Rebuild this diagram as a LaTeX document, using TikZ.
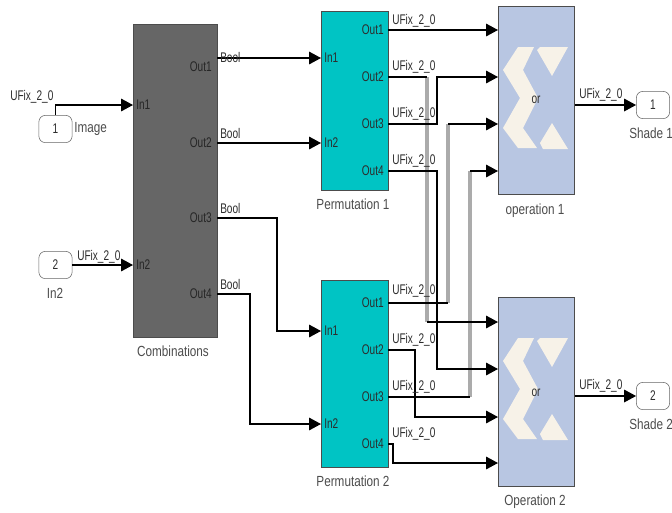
\documentclass[tikz,border=0pt]{standalone}
\usepackage{fontspec}
\setmainfont[FakeStretch=0.72]{Liberation Sans}
\newfontfamily\namefont[FakeStretch=0.8]{Liberation Sans}
\usetikzlibrary{arrows.meta}
\definecolor{permcol}{RGB}{0,196,196}
\definecolor{combcol}{RGB}{102,102,102}
\definecolor{opcol}{RGB}{184,198,226}
\definecolor{logocol}{RGB}{247,242,232}
\definecolor{txtcol}{RGB}{45,45,45}
\tikzset{
  txt/.style={font=\fontsize{10.5}{11}\selectfont, text=txtcol, inner sep=0pt},
  blockname/.style={font=\namefont\fontsize{11}{12}\selectfont, text=txtcol!85, inner sep=0pt},
  block/.style={draw=black!70, line width=1pt, inner sep=0pt, anchor=north west},
  port/.style={draw=black!60, rounded corners=5pt, minimum width=25pt, minimum height=20.5pt, inner sep=0pt, font=\fontsize{10.5}{11}\selectfont, text=txtcol, fill=white},
  wire/.style={line width=0.9pt, -{Triangle[length=9pt,width=9.5pt]}},
  wirebus/.style={line width=2.5pt, draw=black!33},
  plain/.style={line width=0.9pt}
}
\newcommand{\logo}[2]{%
  \fill [logocol, shift={(#1,#2)}] (0,23) -- (15,0) -- (31,0) -- (20,23) -- (35,51) -- (20,81) -- (34,101) -- (15,101) -- (0,81) -- (17,51) -- cycle;
  \fill [logocol, shift={(#1,#2)}] (37,0) -- (65,0) -- (49,29) -- (34,3) -- cycle;
  \fill [logocol, shift={(#1,#2)}] (49,76) -- (65,102) -- (40,102) -- (37,96) -- cycle;}
\begin{document}
\begin{tikzpicture}[x=0.75pt, y=-0.75pt]
  \useasboundingbox (0,0) rectangle (672,512);
  % blocks
  \node (comb) [block, fill=combcol, minimum width=63pt, minimum height=234.75pt] at (133,24) {};
  \node (perm1) [block, fill=permcol, minimum width=50.25pt, minimum height=134.25pt] at (321,11) {};
  \node (perm2) [block, fill=permcol, minimum width=50.25pt, minimum height=140.25pt] at (321,280) {};
  \node (op1) [block, fill=opcol, minimum width=57pt, minimum height=141pt] at (498,6) {};
  \node (op2) [block, fill=opcol, minimum width=57pt, minimum height=141.75pt] at (498,297) {};
  \logo{503}{47}
  \logo{503}{338}
  \node (orA) [txt] at (536,100) {or};
  \node (orB) [txt] at (536,393) {or};
  % ports
  \node (image) [port] at (55.5,129) {1};
  \node (in2) [port] at (55.5,265) {2};
  \node (shade1) [port] at (653,105) {1};
  \node (shade2) [port] at (653,396) {2};
  % port coordinates
  \coordinate (cin1) at (133,105);
  \coordinate (cin2) at (133,265);
  \foreach \n/\y in {1/58,2/143,3/218,4/294}
    \coordinate (cout\n) at (217,\y);
  \coordinate (p1in1) at (321,58);
  \coordinate (p1in2) at (321,143);
  \coordinate (p2in1) at (321,331);
  \coordinate (p2in2) at (321,424);
  \foreach \n/\y in {1/30,2/77,3/124,4/171}{
    \coordinate (p1out\n) at (388,\y);
    \coordinate (o1in\n) at (498,\y);
  }
  \foreach \n/\y/\z in {1/303/322,2/350/369,3/397/417,4/444/463}{
    \coordinate (p2out\n) at (388,\y);
    \coordinate (o2in\n) at (498,\z);
  }
  % grey runs
  \coordinate (busa) at (427,77);
  \coordinate (busb) at (427,322);
  \coordinate (busc) at (448,303);
  \coordinate (busd) at (448,124);
  \coordinate (buse) at (470,397);
  \coordinate (busf) at (470,171);
  \draw [wirebus] (busa) -- (busb);
  \draw [wirebus] (busc) -- (busd);
  \draw [wirebus] (buse) -- (busf);
  % wires
  \draw [wire] (image.north) |- (cin1);
  \draw [wire] (in2) -- (cin2);
  \draw [wire] (cout1) -- (p1in1);
  \draw [wire] (cout2) -- (p1in2);
  \draw [wire] (cout3) -- (277,218) -- (277,331) -- (p2in1);
  \draw [wire] (cout4) -- (250,294) -- (250,424) -- (p2in2);
  \draw [wire] (p1out1) -- (o1in1);
  \draw [plain] (p1out2) -- (busa);
  \draw [wire] (busb) -- (o2in1);
  \draw [wire] (p1out3) -- (437,124) -- (437,77) -- (o1in2);
  \draw [wire] (p1out4) -- (437,171) -- (437,369) -- (o2in2);
  \draw [plain] (p2out1) -- (busc);
  \draw [wire] (busd) -- (o1in3);
  \draw [wire] (p2out2) -- (415,350) -- (415,417) -- (o2in3);
  \draw [plain] (p2out3) -- (buse);
  \draw [wire] (busf) -- (o1in4);
  \draw [wire] (p2out4) -- (393,444) -- (393,463) -- (o2in4);
  \draw [wire] (op1.east |- shade1) -- (shade1);
  \draw [wire] (op2.east |- shade2) -- (shade2);
  % port names
  \foreach \n/\y in {1/105,2/265}
    \node (cinl\n) [txt, anchor=west, text=black!85] at (136,\y) {In\n};
  \foreach \n/\y in {1/67,2/143,3/218,4/294}
    \node (coutl\n) [txt, anchor=east, text=black!85] at (212,\y) {Out\n};
  \foreach \n/\y in {1/58,2/143}
    \node (p1inl\n) [txt, anchor=west] at (324,\y) {In\n};
  \foreach \n/\y in {1/331,2/424}
    \node (p2inl\n) [txt, anchor=west] at (324,\y) {In\n};
  \foreach \n/\y in {1/30,2/77,3/124,4/171}
    \node (p1outl\n) [txt, anchor=east] at (384,\y) {Out\n};
  \foreach \n/\y in {1/303,2/350,3/397,4/444}
    \node (p2outl\n) [txt, anchor=east] at (384,\y) {Out\n};
  % block names
  \node (combname) [blockname] at (173,351) {Combinations};
  \node (perm1name) [blockname] at (353,204) {Permutation 1};
  \node (perm2name) [blockname] at (353,481) {Permutation 2};
  \node (op1name) [blockname] at (535,211) {operation 1};
  \node (op2name) [blockname] at (535,502) {Operation 2};
  \node (imagename) [blockname, anchor=west] at (74,129) {Image};
  \node (in2name) [blockname] at (55,293) {In2};
  \node (shade1name) [blockname, anchor=west] at (629,133) {Shade 1};
  \node (shade2name) [blockname, anchor=west] at (629,424) {Shade 2};
  % signal names
  \foreach \x/\y/\t in {10/97/a,77/257/b,392/21/c,392/67/d,392/114/e,392/161/f,392/291/g,392/340/h,392/387/i,392/434/j,579/95/k,579/386/l}
    \node (sig\t) [txt, anchor=west] at (\x,\y) {UFix\_2\_0};
  \foreach \y/\t in {57/a,133/b,208/c,284/d}
    \node (bool\t) [txt, anchor=west] at (220,\y) {Bool};
\end{tikzpicture}
\end{document}
